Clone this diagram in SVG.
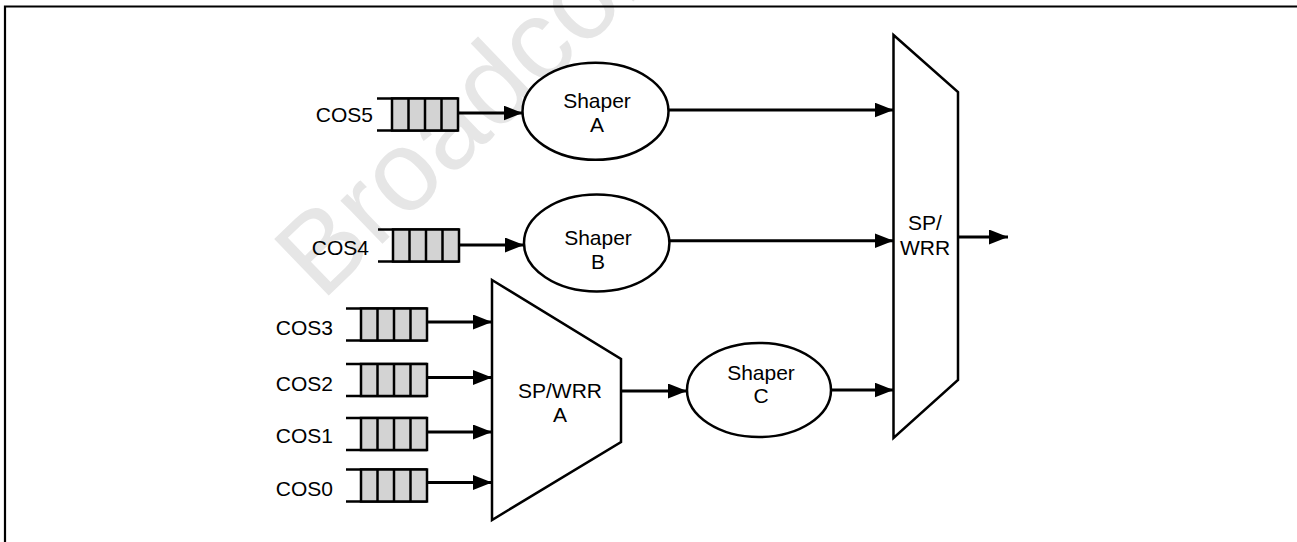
<svg xmlns="http://www.w3.org/2000/svg" width="1297" height="542" viewBox="0 0 1297 542">
<defs>
<style>
.t{font-family:"Liberation Sans",Arial,sans-serif;font-size:21px;fill:#000}
.c{text-anchor:middle}
.e{text-anchor:end}
.shape{fill:#fff;stroke:#000;stroke-width:2.5}
.ln{stroke:#000;stroke-width:3;fill:none}
.q{stroke:#000;stroke-width:2.5;fill:none}
.qf{fill:#d3d3d3;stroke:#000;stroke-width:2.5}
.wm{font-family:"Liberation Sans",Arial,sans-serif;font-size:114px;fill:#e6e6e6}
</style>
<marker id="ah" markerUnits="userSpaceOnUse" markerWidth="20" markerHeight="16" refX="19" refY="7.5" orient="auto">
<path d="M0,0 L19,7.5 L0,15 z" fill="#000"/>
</marker>
<g id="queue">
<line class="q" x1="0" y1="0" x2="81" y2="0"/>
<line class="q" x1="0" y1="32" x2="81" y2="32"/>
<rect class="qf" x="15" y="0" width="66" height="32"/>
<line class="q" x1="31.5" y1="0" x2="31.5" y2="32"/>
<line class="q" x1="48" y1="0" x2="48" y2="32"/>
<line class="q" x1="64.5" y1="0" x2="64.5" y2="32"/>
</g>
</defs>
<rect width="1297" height="542" fill="#fff"/>
<text class="wm" transform="translate(322,302) rotate(-44)">Broadcom</text>
<path d="M5,542 V6.5 H1297" stroke="#000" stroke-width="2.2" fill="none"/>

<g id="cos5"><use href="#queue" x="377" y="98.5"/><text class="t e" x="373" y="121.5">COS5</text></g>
<g id="cos4"><use href="#queue" x="378" y="229.5"/><text class="t e" x="369" y="255">COS4</text></g>
<g id="cos3"><use href="#queue" x="346" y="308.5"/><text class="t e" x="333" y="335">COS3</text></g>
<g id="cos2"><use href="#queue" x="346" y="364"/><text class="t e" x="333" y="390.5">COS2</text></g>
<g id="cos1"><use href="#queue" x="346" y="418"/><text class="t e" x="333" y="443">COS1</text></g>
<g id="cos0"><use href="#queue" x="346" y="469.5"/><text class="t e" x="333" y="495.5">COS0</text></g>

<g id="shaperA"><ellipse class="shape" cx="595.5" cy="111.3" rx="73" ry="48.5"/><text class="t c" x="597" y="108.3">Shaper</text><text class="t c" x="597" y="132.3">A</text></g>
<g id="shaperB"><ellipse class="shape" cx="596.7" cy="243" rx="72.7" ry="48.5"/><text class="t c" x="598" y="245">Shaper</text><text class="t c" x="598" y="269">B</text></g>
<g id="shaperC"><ellipse class="shape" cx="759" cy="390" rx="72" ry="47"/><text class="t c" x="761" y="380">Shaper</text><text class="t c" x="761" y="403">C</text></g>
<g id="spwrrA"><polygon class="shape" points="492,280 621,359 621,442 492,520"/><text class="t c" x="560" y="398.3">SP/WRR</text><text class="t c" x="560" y="421.7">A</text></g>
<g id="spwrr"><polygon class="shape" points="893.5,35 958,92 958,380 893.5,438"/><text class="t c" x="925" y="230">SP/</text><text class="t c" x="925" y="255">WRR</text></g>

<g id="connectors">
<line class="ln" x1="458" y1="113" x2="522.5" y2="113" marker-end="url(#ah)"/>
<line class="ln" x1="459" y1="245" x2="524" y2="245" marker-end="url(#ah)"/>
<line class="ln" x1="427" y1="322" x2="492" y2="322" marker-end="url(#ah)"/>
<line class="ln" x1="427" y1="377.5" x2="492" y2="377.5" marker-end="url(#ah)"/>
<line class="ln" x1="427" y1="432" x2="492" y2="432" marker-end="url(#ah)"/>
<line class="ln" x1="427" y1="482.5" x2="492" y2="482.5" marker-end="url(#ah)"/>
<line class="ln" x1="668.5" y1="110" x2="893.5" y2="110" marker-end="url(#ah)"/>
<line class="ln" x1="669.5" y1="240.7" x2="893.5" y2="240.7" marker-end="url(#ah)"/>
<line class="ln" x1="621" y1="391" x2="687" y2="391" marker-end="url(#ah)"/>
<line class="ln" x1="831" y1="390" x2="893.5" y2="390" marker-end="url(#ah)"/>
<line class="ln" x1="958" y1="237" x2="1008" y2="237" marker-end="url(#ah)"/>
</g>
</svg>
